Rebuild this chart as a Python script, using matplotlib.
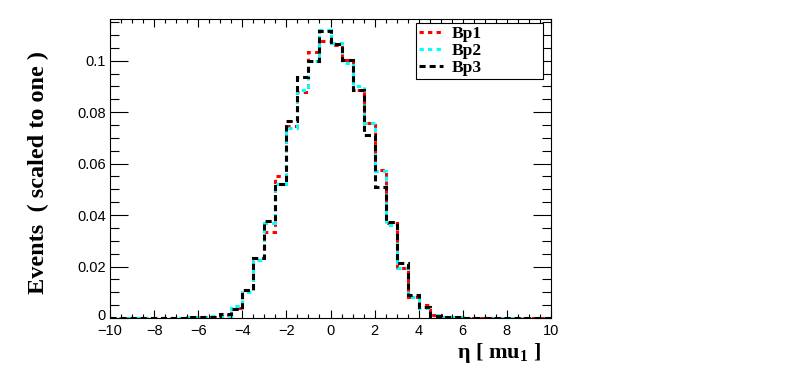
import numpy as np
import matplotlib
matplotlib.use("Agg")
import matplotlib.pyplot as plt
import matplotlib.transforms as mtransforms
from matplotlib.ticker import MultipleLocator, FuncFormatter

# ---- data (40 bins of width 0.5 from -10 to 10) ----
bin_edges = np.linspace(-10, 10, 41)
labels = ["Bp1", "Bp2", "Bp3"]
colors = ["#ff0000", "#00ffff", "#000000"]

bp1 = [0.0, 0.0, 0.0, 0.0, 0.0001, 0.0001, 0.0001, 0.0001,
       0.0002, 0.0005, 0.0010, 0.0038, 0.0108, 0.0226, 0.0336, 0.0550,
       0.0745, 0.0880, 0.1035, 0.1075, 0.1062, 0.1003, 0.0887, 0.0758,
       0.0576, 0.0368, 0.0193, 0.0083, 0.0050, 0.0012, 0.0005, 0.0003,
       0.0001, 0.0001, 0.0001, 0.0001, 0.0, 0.0, 0.0, 0.0]
bp2 = [0.0, 0.0, 0.0, 0.0, 0.0001, 0.0001, 0.0001, 0.0002,
       0.0003, 0.0006, 0.0008, 0.0047, 0.0102, 0.0226, 0.0368, 0.0520,
       0.0738, 0.0885, 0.1000, 0.1120, 0.1070, 0.0990, 0.0900, 0.0758,
       0.0573, 0.0360, 0.0193, 0.0080, 0.0038, 0.0010, 0.0004, 0.0002,
       0.0001, 0.0001, 0.0001, 0.0, 0.0, 0.0, 0.0, 0.0]
bp3 = [0.0, 0.0, 0.0, 0.0, 0.0001, 0.0001, 0.0001, 0.0002,
       0.0003, 0.0005, 0.0014, 0.0034, 0.0110, 0.0232, 0.0377, 0.0520,
       0.0764, 0.0937, 0.0998, 0.1114, 0.1066, 0.1004, 0.0887, 0.0710,
       0.0511, 0.0375, 0.0213, 0.0090, 0.0044, 0.0008, 0.0003, 0.0002,
       0.0001, 0.0001, 0.0001, 0.0, 0.0, 0.0, 0.0, 0.0]
series = [bp1, bp2, bp3]

x_ticks = np.arange(-10, 11, 2)
y_ticks = [0, 0.02, 0.04, 0.06, 0.08, 0.1]

plt.rcParams['font.family'] = ['Liberation Sans', 'DejaVu Sans']
plt.rcParams['mathtext.fontset'] = 'custom'
plt.rcParams['mathtext.rm'] = 'Liberation Serif'
plt.rcParams['mathtext.bf'] = 'Liberation Serif:bold'
plt.rcParams['mathtext.it'] = 'Liberation Serif:italic'

fig = plt.figure(figsize=(7.88, 3.75), dpi=100)
ax = fig.add_axes([110/788, 57/375, 441/788, 299/375])

styles = [(0, (1.4, 1.4)), (0, (1.4, 1.4)), (0, (2.0, 1.3))]
for vals, col, lab, ls in zip(series, colors, labels, styles):
    ax.stairs(vals, bin_edges, color=col, linewidth=2.2, linestyle=ls,
              label=lab, baseline=0)

ax.set_xlim(-10, 10)
ax.set_ylim(0, 0.1162)
ax.set_xticks(x_ticks)
ax.set_yticks(y_ticks)
ax.xaxis.set_minor_locator(MultipleLocator(0.5))
ax.yaxis.set_minor_locator(MultipleLocator(0.005))
ax.yaxis.set_major_formatter(FuncFormatter(lambda v, p: "%g" % round(v, 4)))
ax.xaxis.set_major_formatter(FuncFormatter(lambda v, p: ("%g" % v).replace("-", "\u2212")))

ax.tick_params(axis='x', which='major', direction='in', length=5.8, width=0.8,
               top=True, bottom=True, labelsize=10.5, pad=4)
ax.tick_params(axis='x', which='minor', direction='in', length=2.9, width=0.8,
               top=True, bottom=True)
ax.tick_params(axis='y', which='major', direction='in', length=13, width=0.8,
               left=True, right=True, labelsize=10.5, pad=3)
ax.tick_params(axis='y', which='minor', direction='in', length=6.5, width=0.8,
               left=True, right=True)
for s in ax.spines.values():
    s.set_linewidth(0.8)

# nudge the "0" y label up slightly (as ROOT does) so it does not collide with "-10"
fig.canvas.draw()
zero_lab = ax.yaxis.get_majorticklabels()[0]
zero_lab.set_transform(zero_lab.get_transform() +
                       mtransforms.ScaledTranslation(0, 4/100, fig.dpi_scale_trans))

leg = ax.legend(loc='upper left', bbox_to_anchor=(0.694, 0.804, 0.287, 0.182),
                mode='expand', frameon=True, fancybox=False, framealpha=1,
                edgecolor='black', borderpad=0.15, labelspacing=0.05,
                handlelength=1.4, handletextpad=0.5, borderaxespad=0,
                prop={'family': 'Liberation Serif', 'weight': 'bold', 'size': 12.5})
leg.get_frame().set_linewidth(0.8)

fig.text(38/788, (375-173)/375, "Events  ( scaled to one )", rotation=90,
         ha='center', va='center', family='Liberation Serif', weight='bold',
         fontsize=17.5)
fig.text(541/788, (375-353)/375, "\u03b7 [ mu$_\\mathbf{1}$ ]", ha='right',
         va='center', family='Liberation Serif', weight='bold', fontsize=16)

fig.savefig("out.png", dpi=100)
